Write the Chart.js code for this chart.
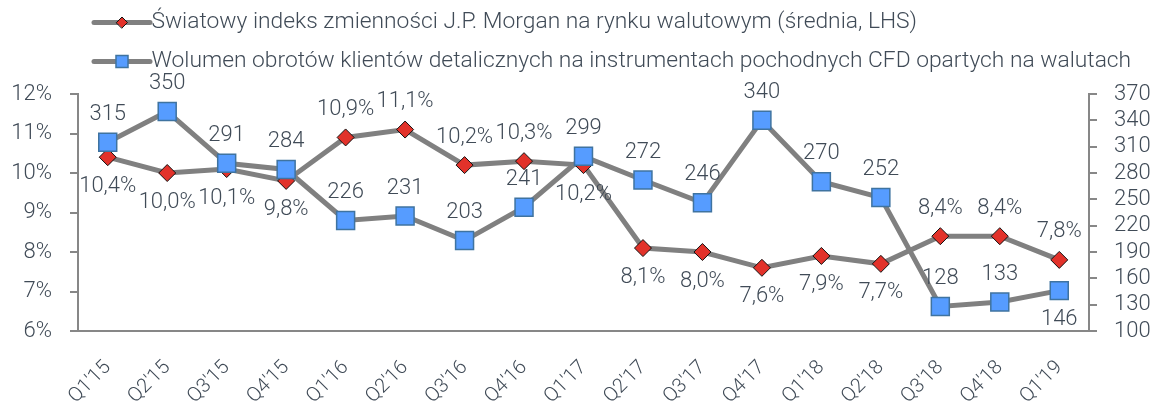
<!DOCTYPE html>
<html>
<head>
<meta charset="utf-8">
<script src="https://cdn.jsdelivr.net/npm/chart.js@4.4.1/dist/chart.umd.min.js"></script>
<style>
  html, body { margin: 0; padding: 0; background: #ffffff; }
  #wrap { width: 1155px; height: 403px; position: relative; }
</style>
</head>
<body>
<div id="wrap"><canvas id="chart"></canvas></div>
<script>
// ---- data ----
const categories = ["Q1'15", "Q2'15", "Q3'15", "Q4'15", "Q1'16", "Q2'16", "Q3'16", "Q4'16", "Q1'17", "Q2'17", "Q3'17", "Q4'17", "Q1'18", "Q2'18", "Q3'18", "Q4'18", "Q1'19"];
const volatilityIndex = [10.4, 10.0, 10.1, 9.8, 10.9, 11.1, 10.2, 10.3, 10.2, 8.1, 8.0, 7.6, 7.9, 7.7, 8.4, 8.4, 7.8];
const cfdVolume = [315, 350, 291, 284, 226, 231, 203, 241, 299, 272, 246, 340, 270, 252, 128, 133, 146];
const leftTicks = [6, 7, 8, 9, 10, 11, 12];
const rightTicks = [100, 130, 160, 190, 220, 250, 280, 310, 340, 370];
const seriesNames = [
  "Światowy indeks zmienności J.P. Morgan na rynku walutowym (średnia, LHS)",
  "Wolumen obrotów klientów detalicznych na instrumentach pochodnych CFD opartych na walutach"
];
// which side of the marker each data label sits on
const volatilityLabelSide = ['below','below','below','below','above','above','above','above','below','below','below','below','below','below','above','above','above'];
const volumeLabelSide = ['above','above','above','above','above','above','above','above','above','above','above','above','above','above','above','above','below'];

// ---- styles ----
const TEXT = '#404b57';
const AXIS = '#878787';
const LINE = '#808080';
const FONT = 'Roboto';

function fmtPct(v) { return v.toFixed(1).replace('.', ',') + '%'; }
function fmtNum(v) { return String(v); }

const dataLabels = {
  id: 'dataLabels',
  afterDatasetsDraw(chart) {
    const ctx = chart.ctx;
    ctx.save();
    ctx.font = '300 22px ' + FONT;
    ctx.fillStyle = TEXT;
    ctx.textAlign = 'center';
    ctx.textBaseline = 'middle';
    chart.data.datasets.forEach((ds, di) => {
      const meta = chart.getDatasetMeta(di);
      meta.data.forEach((pt, i) => {
        const side = ds.labelSide[i];
        const y = pt.y + (side === 'above' ? -28 : 29);
        ctx.fillText(ds.labelFormat(ds.data[i]), pt.x, y);
      });
    });
    ctx.restore();
  }
};

const legendSamples = {
  id: 'legendSamples',
  beforeLayout(chart) {
    const lg = chart.legend;
    if (lg && !lg._patched) {
      const origFit = lg.fit;
      lg.fit = function () { origFit.call(this); this.height += 3; };
      lg._patched = true;
    }
  },
  afterDraw(chart) {
    const lg = chart.legend;
    if (!lg || !lg.legendHitBoxes) return;
    const ctx = chart.ctx;
    ctx.save();
    lg.legendHitBoxes.forEach((hb, i) => {
      const item = lg.legendItems[i];
      const ds = chart.data.datasets[item.datasetIndex];
      const cy = hb.top + hb.height / 2;
      const x0 = hb.left + 84, x1 = hb.left + 140;
      ctx.strokeStyle = LINE;
      ctx.lineWidth = 5;
      ctx.lineCap = 'round';
      ctx.beginPath(); ctx.moveTo(x0, cy); ctx.lineTo(x1, cy); ctx.stroke();
      ctx.fillStyle = ds.legendFill;
      ctx.strokeStyle = ds.legendStroke;
      ctx.lineWidth = ds.pointBorderWidth;
      Chart.helpers.drawPoint(ctx, {
        pointStyle: ds.pointStyle,
        radius: ds.legendRadius,
        borderWidth: ds.pointBorderWidth,
        rotation: 0
      }, (x0 + x1) / 2, cy);
    });
    ctx.restore();
  }
};

const chart = new Chart(document.getElementById('chart'), {
  type: 'line',
  data: {
    labels: categories,
    datasets: [
      {
        label: seriesNames[0],
        data: volatilityIndex,
        yAxisID: 'yLeft',
        order: 1,
        borderColor: LINE,
        borderWidth: 5,
        pointStyle: 'rectRot',
        pointRadius: 8.5,
        pointHoverRadius: 8.5,
        pointBackgroundColor: '#e2322a',
        pointBorderColor: '#111111',
        pointBorderWidth: 1,
        legendRadius: 5.5,
        legendFill: '#e2322a',
        legendStroke: '#111111',
        labelSide: volatilityLabelSide,
        labelFormat: fmtPct,
        clip: false,
        tension: 0
      },
      {
        label: seriesNames[1],
        data: cfdVolume,
        yAxisID: 'yRight',
        order: 0,
        borderColor: LINE,
        borderWidth: 5,
        pointStyle: 'rect',
        pointRadius: 12.7,
        pointHoverRadius: 12.7,
        pointBackgroundColor: '#569cff',
        pointBorderColor: '#3f73a0',
        pointBorderWidth: 1.5,
        legendRadius: 8.5,
        legendFill: '#569cff',
        legendStroke: '#3f73a0',
        labelSide: volumeLabelSide,
        labelFormat: fmtNum,
        clip: false,
        tension: 0
      }
    ]
  },
  options: {
    responsive: true,
    maintainAspectRatio: false,
    animation: false,
    layout: { padding: { left: 10, right: 4, top: 3, bottom: 2 } },
    plugins: {
      tooltip: { enabled: false },
      legend: {
        display: true,
        position: 'top',
        align: 'start',
        fullSize: true,
        labels: {
          color: TEXT,
          font: { family: FONT, size: 22.8, weight: '300' },
          boxWidth: 130,
          boxHeight: 39,
          padding: 0,
          sort: (a, b) => a.datasetIndex - b.datasetIndex,
          generateLabels(chart) {
            const items = Chart.defaults.plugins.legend.labels.generateLabels(chart);
            return items.map(it => Object.assign(it, {
              fillStyle: 'rgba(0,0,0,0)', strokeStyle: 'rgba(0,0,0,0)', lineWidth: 0
            }));
          }
        }
      }
    },
    scales: {
      x: {
        type: 'category',
        offset: true,
        afterFit(axis) { axis.height = 70; },
        grid: { display: true, drawOnChartArea: false, drawTicks: false },
        border: { display: true, color: AXIS, width: 2 },
        ticks: {
          color: TEXT,
          font: { family: FONT, size: 20, weight: '300' },
          minRotation: 45,
          maxRotation: 45,
          padding: 25,
          autoSkip: false
        }
      },
      yLeft: {
        type: 'linear',
        position: 'left',
        min: leftTicks[0],
        max: leftTicks[leftTicks.length - 1],
        afterBuildTicks(axis) { axis.ticks = leftTicks.map(v => ({ value: v })); },
        afterFit(axis) { axis.width = 68; },
        grid: { display: true, drawOnChartArea: false, drawTicks: true, tickLength: 8, color: AXIS, lineWidth: 2 },
        border: { display: true, color: AXIS, width: 2 },
        ticks: {
          color: TEXT,
          font: { family: FONT, size: 22, weight: '300' },
          padding: 18,
          autoSkip: false,
          callback: v => v + '%'
        }
      },
      yRight: {
        type: 'linear',
        position: 'right',
        min: rightTicks[0],
        max: rightTicks[rightTicks.length - 1],
        afterBuildTicks(axis) { axis.ticks = rightTicks.map(v => ({ value: v })); },
        afterFit(axis) { axis.width = 62; },
        grid: { display: true, drawOnChartArea: false, drawTicks: true, tickLength: 8, color: AXIS, lineWidth: 2 },
        border: { display: true, color: AXIS, width: 2 },
        ticks: {
          color: TEXT,
          font: { family: FONT, size: 22, weight: '300' },
          padding: 17,
          autoSkip: false,
          callback: v => String(v)
        }
      }
    }
  },
  plugins: [dataLabels, legendSamples]
});
</script>
</body>
</html>
